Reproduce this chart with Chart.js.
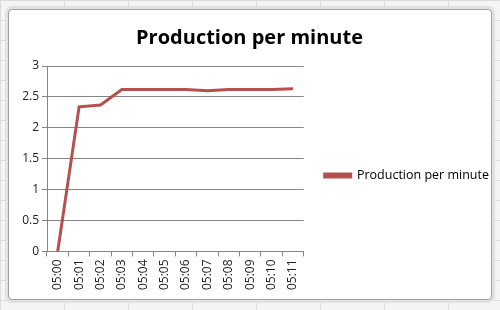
<!DOCTYPE html>
<html>
<head>
<meta charset="utf-8">
<script src="https://cdn.jsdelivr.net/npm/chart.js@4"></script>
<style>
  html, body { margin: 0; padding: 0; width: 500px; height: 310px; overflow: hidden; }
  body {
    background-color: #f4f4f4;
    background-image: linear-gradient(#dcdcdc 1px, transparent 1px), linear-gradient(90deg, #dcdcdc 1px, transparent 1px);
    background-size: 64px 20px;
    position: relative;
    font-family: "Open Sans", "Liberation Sans", sans-serif;
  }
  #frame {
    position: absolute; left: 8px; top: 9px; width: 482px; height: 289px;
    background: #fff; border: 1px solid #a0a0a0; border-radius: 4px;
    box-shadow: 0 0 0 3px #e2e2e2;
  }
  #wrap { position: absolute; left: 0; top: 0; width: 500px; height: 310px; }
</style>
</head>
<body>
<div id="frame"></div>
<div id="wrap"><canvas id="chart" width="500" height="310"></canvas></div>
<script>
// 데이터
const minutes = ["05:00", "05:01", "05:02", "05:03", "05:04", "05:05", "05:06", "05:07", "05:08", "05:09", "05:10", "05:11"];
const production = [0, 2.34, 2.37, 2.62, 2.62, 2.62, 2.62, 2.60, 2.62, 2.62, 2.62, 2.63];
const yTicks = [0, 0.5, 1, 1.5, 2, 2.5, 3];

const ctx = document.getElementById("chart");
new Chart(ctx, {
    type: "line",
    data: {
        labels: minutes,
        datasets: [{
            label: "Production per minute",
            data: production,
            borderColor: "#b5504d",
            backgroundColor: "#b5504d",
            borderWidth: 3,
            pointRadius: 0,
            tension: 0,
            fill: false
        }]
    },
    options: {
        responsive: false,
        animation: false,
        layout: { padding: { left: 0, right: 1, top: 14, bottom: 17 } },
        plugins: {
            title: {
                display: true,
                text: "Production per minute",
                color: "#000",
                font: { family: "Open Sans", size: 20, weight: "bold" },
                padding: { top: 12, bottom: 16 }
            },
            legend: {
                position: "right",
                maxWidth: 260,
                title: { display: true, text: "", font: { size: 10 }, padding: { top: 16, bottom: 16 } },
                labels: {
                    boxWidth: 26,
                    boxHeight: 3,
                    padding: 21,
                    color: "#000",
                    font: { family: "Open Sans", size: 12.5 }
                }
            },
            tooltip: { enabled: false }
        },
        scales: {
            x: {
                offset: true,
                grid: { drawOnChartArea: false, offset: true, tickLength: 5, color: "#868686" },
                border: { color: "#868686" },
                ticks: { minRotation: 90, maxRotation: 90, color: "#222", font: { family: "Open Sans", size: 12 } }
            },
            y: {
                min: 0,
                max: 3,
                afterBuildTicks: (axis) => { axis.ticks = yTicks.map(v => ({ value: v })); },
                afterFit: (scale) => { scale.width = 47; },
                grid: { color: "#868686", tickLength: 5 },
                border: { color: "#868686" },
                ticks: { color: "#222", padding: 3, font: { family: "Open Sans", size: 12 }, callback: (v) => String(v) }
            }
        }
    }
});
</script>
</body>
</html>
